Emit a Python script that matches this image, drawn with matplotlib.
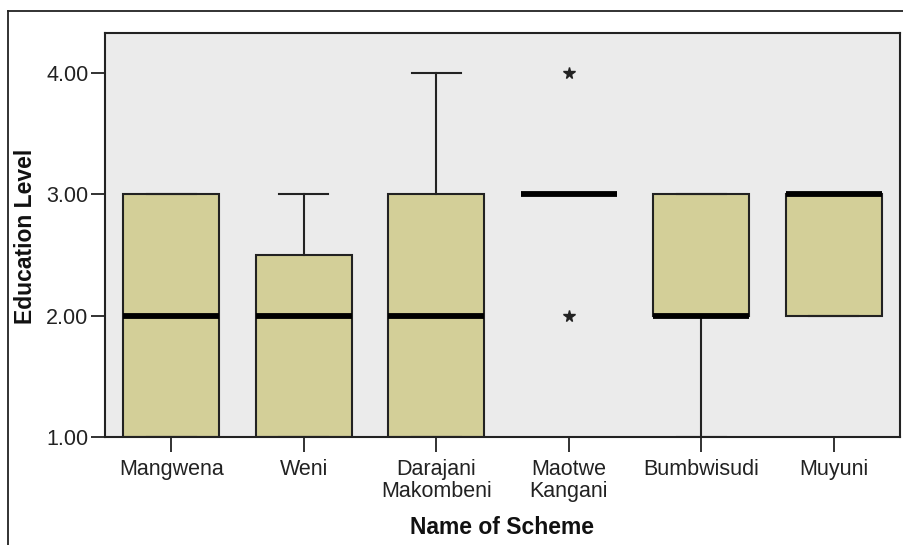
import matplotlib
matplotlib.use("Agg")
import matplotlib.pyplot as plt
from matplotlib.lines import Line2D

plt.rcParams['font.family'] = ['Liberation Sans', 'DejaVu Sans']

schemes = ["Mangwena", "Weni", "Darajani\nMakombeni", "Maotwe\nKangani", "Bumbwisudi", "Muyuni"]
q1 = [1.0, 1.0, 1.0, 3.0, 2.0, 2.0]
med = [2.0, 2.0, 2.0, 3.0, 2.0, 3.0]
q3 = [3.0, 2.5, 3.0, 3.0, 3.0, 3.0]
whislo = [1.0, 1.0, 1.0, 3.0, 1.0, 2.0]
whishi = [3.0, 3.0, 4.0, 3.0, 3.0, 3.0]
extremes = [[], [], [], [4.0, 2.0], [], []]
yticks = [1.0, 2.0, 3.0, 4.0]

W, H = 904, 545
fig = plt.figure(figsize=(W / 100, H / 100), dpi=100)
fig.patch.set_facecolor('white')

left, right, top, bottom = 105, 900, 33, 437
ax = fig.add_axes([left / W, 1 - bottom / H, (right - left) / W, (bottom - top) / H])
ax.set_facecolor('#EBEBEB')

stats = []
for i in range(len(schemes)):
    stats.append(dict(q1=q1[i], med=med[i], q3=q3[i], whislo=whislo[i],
                      whishi=whishi[i], fliers=extremes[i], label=schemes[i]))

positions = list(range(1, len(schemes) + 1))
ax.bxp(stats, positions=positions, widths=0.725, patch_artist=True,
       showfliers=True, capwidths=0.37,
       boxprops=dict(facecolor='#D3CF98', edgecolor='#222222', linewidth=1.5),
       medianprops=dict(color='black', linewidth=4.2, solid_capstyle='butt'),
       whiskerprops=dict(color='#222222', linewidth=1.5),
       capprops=dict(color='#222222', linewidth=1.5),
       flierprops=dict(marker='*', markersize=8.5, markerfacecolor='#222222',
                       markeredgecolor='#222222', linestyle='none'))

ax.set_xlim(0.5, len(schemes) + 0.5)
ax.set_ylim(1.0, 4.33)
ax.set_yticks(yticks)
ax.set_yticklabels([f"{v:.2f}" for v in yticks])
ax.set_xticks(positions)
ax.set_xticklabels(schemes, linespacing=1.05)

ax.tick_params(axis='y', length=10, width=1.3, pad=2, labelsize=15.5, colors='#222222')
ax.tick_params(axis='x', length=11, width=1.3, pad=5, labelsize=15.5, colors='#222222')
for s in ax.spines.values():
    s.set_linewidth(1.5)
    s.set_color('#222222')

fig.text(26 / W, 1 - 236 / H, "Education Level", rotation=90, ha='center', va='center',
         fontsize=16.5, fontweight='bold', color='#111111')
fig.text(502 / W, 1 - 527 / H, "Name of Scheme", ha='center', va='center',
         fontsize=16.5, fontweight='bold', color='#111111')

# outer frame
fig.add_artist(Line2D([7.5 / W, 7.5 / W], [0, 1 - 11 / H], transform=fig.transFigure,
                      color='#222222', linewidth=1.3))
fig.add_artist(Line2D([7.5 / W, 1], [1 - 11 / H, 1 - 11 / H], transform=fig.transFigure,
                      color='#222222', linewidth=1.3))

fig.savefig("out.png", dpi=100)
